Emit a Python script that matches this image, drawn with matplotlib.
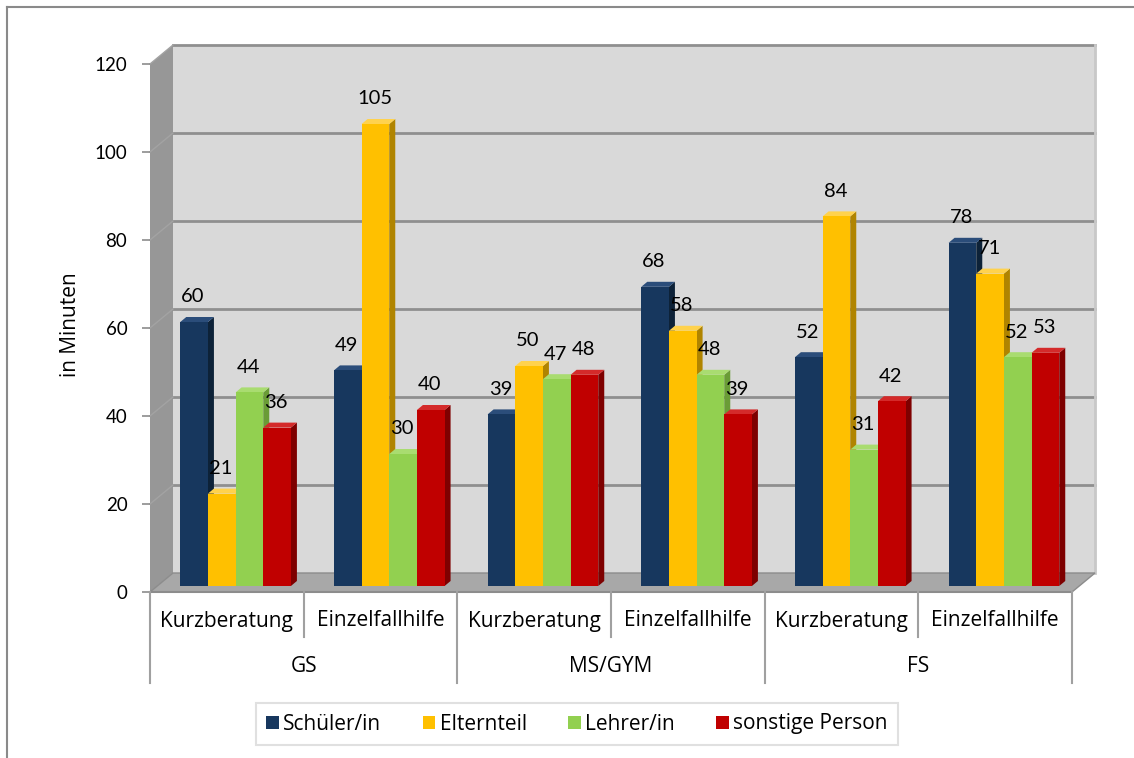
import matplotlib
matplotlib.use('Agg')
import matplotlib.pyplot as plt
from matplotlib.patches import Polygon, Patch, Rectangle
from matplotlib.lines import Line2D

plt.rcParams['font.family'] = ['Open Sans', 'DejaVu Sans']

schulen = ['GS', 'MS/GYM', 'FS']
arten = ['Kurzberatung', 'Einzelfallhilfe']
personen = ['Schüler/in', 'Elternteil', 'Lehrer/in', 'sonstige Person']

# minutes per category: GS-Kurz, GS-Einzel, MS-Kurz, MS-Einzel, FS-Kurz, FS-Einzel
schueler = [60, 49, 39, 68, 52, 78]
eltern = [21, 105, 50, 58, 84, 71]
lehrer = [44, 30, 47, 48, 31, 52]
sonstige = [36, 40, 48, 39, 42, 53]
serien = [schueler, eltern, lehrer, sonstige]
yticks = [0, 20, 40, 60, 80, 100, 120]

# front / side / top shades per series
farben = [('#17375e', '#0d2238', '#2b4d7a'),
          ('#ffc000', '#b08400', '#ffd24d'),
          ('#92d050', '#6a9c36', '#a9dc70'),
          ('#c00000', '#7e0000', '#d42a2a')]

W, H = 1134, 758
fig = plt.figure(figsize=(W / 100, H / 100), dpi=100)

# plot area (front plane) in pixels
L, R, T, B = 150, 1072, 64, 592
ax = fig.add_axes([L / W, 1 - B / H, (R - L) / W, (B - T) / H])
n = len(schueler)
ymax = 120
ax.set_xlim(0, n)
ax.set_ylim(0, ymax)
ax.patch.set_visible(False)
for s in ax.spines.values():
    s.set_visible(False)

ux = n / (R - L)
uy = ymax / (B - T)
DX, DY = 23 * ux, 19 * uy  # depth of walls

# walls and floor
ax.add_patch(Polygon([(0, 0), (DX, DY), (DX, ymax + DY), (0, ymax)],
                     closed=True, fc='#979797', ec='none', zorder=0, clip_on=False))
ax.add_patch(Rectangle((DX, DY), n, ymax, fc='#d9d9d9', ec='none', zorder=0, clip_on=False))
ax.add_patch(Polygon([(0, 0), (DX, DY), (n + DX, DY), (n, 0)],
                     closed=True, fc='#a8a8a8', ec='#8c8c8c', lw=1, zorder=0.5, clip_on=False))
for v in yticks[1:]:
    ax.plot([DX, n + DX], [v + DY, v + DY], color='#8f8f8f', lw=2, zorder=0.3, clip_on=False)
    ax.plot([0, DX], [v, v + DY], color='#a3a3a3', lw=1, zorder=0.3, clip_on=False)
ax.plot([n + DX, n + DX], [DY, ymax + DY], color='#c8c8c8', lw=2, zorder=0.3, clip_on=False)

# bars with side and top faces
bw = 0.18
off = 0.057
base = 6 * uy
sdx, sdy = 6 * ux, 5 * uy
z = 2
for i in range(n):
    for j, werte in enumerate(serien):
        v = werte[i]
        front, side, top = farben[j]
        xl = i + 0.5 + off + (j - 2) * bw
        xr = xl + bw
        yt = base + v
        ax.add_patch(Polygon([(xr, base), (xr + sdx, base + sdy), (xr + sdx, yt + sdy), (xr, yt)],
                             closed=True, fc=side, ec='none', zorder=z, clip_on=False))
        ax.add_patch(Polygon([(xl, yt), (xl + sdx, yt + sdy), (xr + sdx, yt + sdy), (xr, yt)],
                             closed=True, fc=top, ec='none', zorder=z + 0.1, clip_on=False))
        ax.bar(xl, v, width=bw, bottom=base, align='edge', color=front, zorder=z + 0.2,
               clip_on=False)
        ax.annotate(str(v), (xl + bw / 2, yt), xytext=(-1, 25), textcoords='offset pixels',
                    ha='center', va='center', fontsize=14.5, family=['Lato', 'DejaVu Sans'],
                    color='black', zorder=50)
        z += 1

# y axis
ax.set_xticks([])
ax.set_yticks(yticks)
ax.set_yticklabels([str(t) for t in yticks], family=['Lato', 'DejaVu Sans'])
ax.tick_params(axis='y', length=5.8, width=1.2, color='#8c8c8c', pad=10.5, labelsize=13.5)
fig.text(70 / W, 1 - 325 / H, 'in Minuten', rotation=90, ha='center', va='center', fontsize=15)

# category axis
achse = '#a0a0a0'
ax.plot([0, n], [0, 0], color='#8c8c8c', lw=1.5, clip_on=False, zorder=1)
for k in range(n + 1):
    tief = 91 if k % 2 == 0 else 45
    ax.plot([k, k], [0, -tief * uy], color=achse, lw=1.5, clip_on=False)
for i in range(n):
    ax.text(i + 0.5, -29 * uy, arten[i % 2], ha='center', va='center', fontsize=15)
for g, name in enumerate(schulen):
    ax.text(2 * g + 1, -75 * uy, name, ha='center', va='center', fontsize=15)

# legend
handles = [Patch(facecolor=f[0], edgecolor='none') for f in farben]
leg = fig.legend(handles, personen, ncol=4, loc='center', bbox_to_anchor=(577 / W, 1 - 724 / H),
                 frameon=True, fancybox=False, edgecolor='#d9d9d9', fontsize=15,
                 handlelength=0.6, handleheight=0.6, handletextpad=0.2, columnspacing=2.0,
                 borderpad=0.5)
leg.get_frame().set_linewidth(1.5)

# chart border
fig.add_artist(Line2D([7 / W, 7 / W], [0, 1 - 7 / H], transform=fig.transFigure,
                      color='#8a8a8a', lw=1.5))
fig.add_artist(Line2D([7 / W, 1], [1 - 7 / H, 1 - 7 / H], transform=fig.transFigure,
                      color='#8a8a8a', lw=1.5))

fig.savefig('out.png', dpi=100)
